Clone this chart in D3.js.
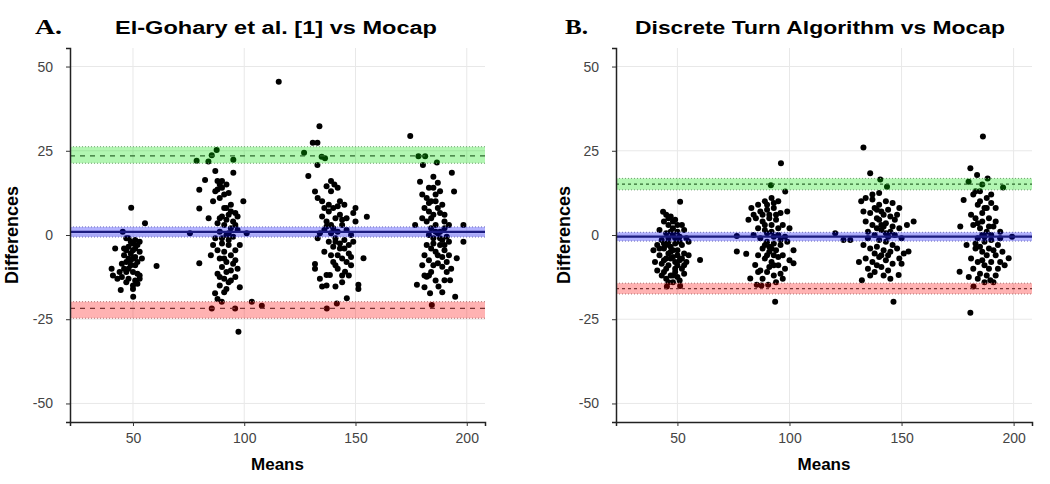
<html>
  <head>
    <meta charset="utf-8">
    <script src="https://d3js.org/d3.v7.min.js"></script>
    <style>
      body { margin: 0; background: #fff; }
      text { font-family: "Liberation Sans", Arial, sans-serif; }
    </style>
  </head>
  <body>
<div id="my_dataviz"></div>
<script>
// Bland-Altman points: [mean, difference]
var pointsA = [
  // around 50
  [49.2,8.1],[55.4,3.5],[45.4,1.0],[60.6,-9.2],[42,-4],[40.4,-10],[44.5,-16.3],[50.1,-18.3],[50,-16],[47,-1],
  [49,-2],[51,-1.5],[52,-3],[48,-3.5],[50,-4.5],[53,-5],[46,-6],[48,-7],[47,-8],[49,-7.5],
  [52,-8],[54,-7],[51,-9],[46,-10],[44,-11],[50,-11],[52,-11.5],[53,-12],[45,-12.5],[43,-13],
  [48,-13],[51,-13.5],[47,-14],[50,-15],[53,-13],[41,-12],[49,-5.5],[51,-6.5],[53,-2],[47,-4.5],
  [48,-1],[50,-2.5],[46,-4],[51,-4],[49,-9],[47,-11],[52,-14.5],[45,-8.5],[50,-7],[48,-10],
  // around 90
  [78.6,22],[83.9,21.8],[85.4,23.7],[87.6,25.2],[95.1,22.3],[95.1,18.5],[82.4,16.3],[79.8,13.4],[99.6,10],[79.8,7.9],
  [79.8,-8.4],[103.4,-19.8],[107.9,-21],[85.4,-21.8],[95.9,-21.8],[97.4,-28.7],[86.9,-17.3],[89.9,-19.8],[75.6,0.5],[101.1,0.5],
  [87,19],[88,16],[89,15],[90,14],[87,13],[91,12],[89,11],[93,12.5],[86,10],[92,8],
  [94,7],[96,6.5],[90,5.5],[92,4.5],[95,4],[88,3.5],[91,3],[94,2],[97,1.5],[89,1],
  [92,0],[95,-0.5],[87,-1],[90,-2.5],[93,-3],[88,-4.5],[91,-5],[94,-6],[89,-7],[92,-8],
  [96,-7.5],[90,-9.5],[94,-10.5],[97,-10],[88,-11.5],[91,-13],[93,-14],[96,-12.5],[89,-15],[92,-16],
  [98,-15.5],[85,-6],[84,5],[86,-3],[98,-3],[115.5,45.5],
  [90,16],[92,15],[88,13.5],[94,9],[91,8],[93,6],[89,5],[96,3],[90,-1],[93,-1.5],
  [96,-4.5],[91,-7],[95,-8.5],[92,-11],[89,-12.5],[94,-13.5],[91,-17],[88,-19],[97,5.5],[93,0.5],
  // around 140
  [133.8,32.3],[130.8,27.4],[132.9,27.4],[126.9,24.4],[134.8,23.2],[136.3,22.8],[132.9,20.8],[128.8,17.5],[155.1,5.4],[153.6,-6.9],
  [131.8,-8.6],[131.8,-10],[146.1,-18.8],[141.6,-20.3],[137.1,-21.8],[151.3,-14.8],[151.3,-16],[145.3,-10.9],[141,-9],[137,-11.9],
  [138.5,-11.9],[137,-15],[141,-15.3],[135,-15.3],[143,-2.5],[145,-4],[147,-5.5],[146,5],[149,6.5],[150,8],
  [131.8,12.9],[133,11],[135,10],[139,16],[140.5,15],[142,14],[136,8],[138,7],[135,5.5],[137,4],
  [139,3],[141,5],[143,6],[140,2],[142,1],[144,3],[146,1.5],[148,0],[136,1.5],[134,0.5],
  [133,-1],[138,-2],[140,-3.5],[142,-6],[144,-7],[146,-8],[148,-9],[139,-6],[141,-1],[144,-12],
  [147,-12],[139,13],[137,14.5],[143,10],[145,9],
  [138,9],[140,8],[142,8.5],[144,4.5],[137,2.5],[139,0.5],[141,-2],[143,-4],[145,-1.5],[147,-3],
  [140,-8],[142,-10],[144,-14],[148,-6.5],[136,-5],[134,-13],[150,4],[149,-2],
  // around 185
  [174.6,29.4],[178.3,23.4],[181.3,23.4],[180.3,20.8],[186.6,21.5],[193.3,18.5],[194.3,12.9],[179,15.8],[185,17.3],[198.5,3],
  [198.5,-2],[176.8,3],[195.5,-6.9],[177.6,-14.8],[182,-12.4],[183.5,-17.3],[184.3,-20.8],[194.8,-18.3],[192.5,-13.4],[190,-13.4],
  [187.3,-15.3],[181,-12],[183,-12],[187,-8.4],[189,-9.4],[180,12],[182,11],[184,10],[186,12],[188,13],
  [181,8],[183,7],[185,6],[187,8],[189,9],[180,5],[182,4],[184,2],[186,3],[188,1],
  [190,2],[183,0],[185,-1],[187,0.5],[189,-1.5],[191,-0.5],[182,-3],[184,-4],[186,-5],[188,-3],
  [190,-4.5],[192,-6],[181,-6],[183,-7.5],[185,-9],[191,-8],[193,-10],[180,-9],[185,14],[187,15.5],
  [190,6],[192,3],
  [183,14],[186,10],[188,6.5],[190,4],[184,5],[186,1],[188,-1],[190,-3],[187,-6],[189,-6.5],
  [184,-11],[186,-13.5],[181,-15.5],[191,-11],[189,-17],[183,9.5],[185,-2.5],[192,-2]
];

var pointsB = [
  // around 48
  [51.2,9.9],[60.1,-7.4],[45.3,-15.3],[51.2,-15.1],[43.6,6.9],[39.3,-4.5],[45,6],[47,5.5],[44,4],[46,3],
  [49,4.5],[48,2],[52,3],[42,1.5],[45,0.5],[48,0],[51,-0.5],[54,-1],[43,-1.5],[46,-2],
  [49,-2.5],[52,-3],[55,-2],[41,-3],[44,-4],[47,-5],[50,-4.5],[53,-5.5],[42,-6],[45,-7],
  [48,-6.5],[51,-7.5],[54,-8],[43,-8.5],[46,-9],[49,-10],[52,-10],[41,-10.5],[44,-11],[47,-12],
  [50,-12.5],[53,-11.5],[45,-13],[48,-14],[51,-13.5],[43,-12],[40,-8],[46,-1],[50,1],[53,1.5],
  [55,-6],[47,-3.5],[42,-4],[49,-8],
  [46,5],[48,4],[50,3],[47,1],[49,-1],[51,-2],[45,-3],[48,-4.5],[50,-6],[46,-5.5],
  [44,-7.5],[47,-7],[49,-11],[52,-7],[45,-10],[48,-12],[50,-9],[46,-14],[53,-9],[44,-2.5],
  // around 92
  [96.2,21.3],[91.7,14.8],[98.1,12.9],[93.6,-19.8],[81.7,4.5],[76.5,-4.9],[80.7,-5.6],[76.5,-0.3],[82.5,-12.9],[85.4,-14.8],
  [87.5,-15],[90.5,-14.8],[84.7,-8.9],[101.8,-4.5],[101.8,-8.4],[83,8],[86,9],[89,10],[92,11],[95,10],
  [87,7],[90,7.5],[93,8],[96,6.5],[99,7],[85,5],[88,4],[91,5],[94,4.5],[97,3],
  [100,2],[86,2],[89,1.5],[92,1],[95,0],[98,-0.5],[84,0],[87,-1],[90,-2],[93,-2.5],
  [96,-3],[99,-2],[88,-4],[91,-5],[94,-4.5],[97,-6],[86,-6],[89,-7],[92,-8],[95,-9],
  [98,-10],[87,-10.5],[90,-11],[93,-12],[96,-11.5],[91,-3.5],[93,-6],[89,3],[100,-7.5],[84,6],
  [90,9],[93,9.5],[91,6],[94,6],[88,6],[92,3],[95,2],[90,0.5],[93,-0.5],[96,-1.5],
  [89,-3],[92,-4],[95,-6.5],[90,-6],[93,-9],[91,-9.5],[88,-13],[94,-14],[97,-13],[86,-11],
  // around 140
  [133,26],[136,18.3],[140.5,16.5],[143.5,14.3],[146.4,-19.8],[120.4,0.5],[124.1,-1.5],[127.1,-1.5],[155.4,4],[152.4,3],
  [132.3,-13.4],[148.7,-11.9],[153.1,-4.9],[132,10],[134,11],[137,10.5],[140,9],[143,10],[146,9.5],[149,8],
  [133,7],[136,6.5],[139,7.5],[142,6],[145,5.5],[148,6],[134,4],[137,3],[140,4.5],[143,3.5],
  [146,2.5],[149,2],[135,1],[138,0],[141,1.5],[144,-0.5],[147,0],[150,-1],[133,-3],[136,-4],
  [139,-3.5],[142,-4.5],[145,-5],[148,-4],[151,-5.5],[134,-7],[137,-8],[140,-6.5],[143,-7.5],[146,-8.5],
  [149,-7],[135,-10],[138,-11],[141,-9.5],[144,-10.5],[131,-8],[136,-12],[139,5],[141,3],[143,0.5],
  [138,8],[141,7],[144,7.5],[139,2],[142,2.5],[145,1],[140,-1.5],[143,-2],[146,-3],[138,-5.5],
  [141,-6],[144,-6],[139,-9],[142,-12],[145,-13],[137,12],[140,12.5],[147,4.5],[135,-1],[150,-8.5],
  // around 186
  [186.3,29.2],[180.7,19.8],[183.7,17.8],[179.9,15.8],[188.4,16.8],[195.3,14.1],[180.7,-23.1],[182.1,-15.3],[175.9,-10.9],[199.3,-0.5],
  [197.8,-6.9],[176.2,2.5],[177.7,10.4],[189.6,-13.4],[182,12],[185,13],[188,11],[184,9],[187,8],[190,9.5],
  [181,6],[183,5],[186,6.5],[189,5],[192,4],[182,3],[185,2],[188,1],[191,2.5],[194,1],
  [184,-1],[187,-2],[190,-1.5],[193,-3],[183,-4],[186,-5],[189,-4],[192,-6],[195,-5],[181,-7],
  [184,-8],[187,-9],[190,-8],[193,-10],[182,-10],[185,-11.5],[188,-12],[192,-12],[196,-9],[179,-3],
  [186,0],[183,-2.5],[190,12],[186,15],[194,-1],[180,-12.5],
  [185,10],[188,8],[186,4],[189,2.5],[184,3.5],[187,-0.5],[190,0],[185,-3.5],[188,-6],[191,-4.5],
  [186,-7.5],[189,-10],[184,-13],[191,-14],[187,-14],[183,13],[192,8],[194,-8]
];

// limits of agreement: [ci low, estimate, ci high]
var biasA  = [-0.6, 0.9, 2.4];
var upperA = [21.3, 23.5, 26.2];
var lowerA = [-24.7, -21.8, -19.8];
var biasB  = [-1.8, -0.5, 0.8];
var upperB = [13.4, 15.1, 16.8];
var lowerB = [-17.5, -15.9, -14.3];

var xTicks = [50, 100, 150, 200];
var yTicks = [-50, -25, 0, 25, 50];

var svg = d3.select("#my_dataviz")
  .append("svg")
    .attr("width", 1050)
    .attr("height", 484);

function drawPanel(opt) {
  var width = opt.width, height = 374;
  var g = svg.append("g")
    .attr("transform", "translate(" + opt.left + ",48)");

  var x = d3.scaleLinear().domain(opt.xDomain).range([0, width]);
  var y = d3.scaleLinear().domain([-55.5, 55.5]).range([height, 0]);

  // grid
  g.selectAll(".gx").data(xTicks).enter().append("line")
    .attr("x1", function(d) { return x(d); }).attr("x2", function(d) { return x(d); })
    .attr("y1", 0).attr("y2", height)
    .attr("stroke", "#e8e8e8").attr("stroke-width", 1);
  g.selectAll(".gy").data(yTicks).enter().append("line")
    .attr("x1", 0).attr("x2", width)
    .attr("y1", function(d) { return y(d); }).attr("y2", function(d) { return y(d); })
    .attr("stroke", "#e8e8e8").attr("stroke-width", 1);

  // dots
  g.append("g").selectAll("circle")
    .data(opt.points)
    .enter()
    .append("circle")
      .attr("cx", function(d) { return x(d[0]); })
      .attr("cy", function(d) { return y(d[1]); })
      .attr("r", 3)
      .attr("fill", "black");

  // bands drawn over the dots, like the original
  function band(vals, fill, edge, lineColor, dash, lineWidth) {
    g.append("rect")
      .attr("x", 0).attr("width", width)
      .attr("y", y(vals[2])).attr("height", y(vals[0]) - y(vals[2]))
      .attr("fill", fill).attr("fill-opacity", 0.3);
    [vals[0], vals[2]].forEach(function(v) {
      g.append("line")
        .attr("x1", 0).attr("x2", width)
        .attr("y1", y(v)).attr("y2", y(v))
        .attr("stroke", edge).attr("stroke-width", 1)
        .attr("stroke-dasharray", "1,2");
    });
    g.append("line")
      .attr("x1", 0).attr("x2", width)
      .attr("y1", y(vals[1])).attr("y2", y(vals[1]))
      .attr("stroke", lineColor).attr("stroke-width", lineWidth)
      .attr("stroke-dasharray", dash);
  }
  band(opt.upper, "#00e000", "#6f9f6f", "#2f6a2f", opt.dash, 1.2);
  band(opt.bias, "#0000ff", "#7070b8", "#1c1c80", null, 2.2);
  band(opt.lower, "#ff0000", "#b07070", "#7a3333", opt.dash, 1.2);

  // axes
  var yAxis = g.append("g")
    .call(d3.axisLeft(y).tickValues(yTicks).tickSize(4).tickPadding(13)
      .tickFormat(function(d) { return String(d); }));
  var xAxis = g.append("g")
    .attr("transform", "translate(0," + height + ")")
    .call(d3.axisBottom(x).tickValues(xTicks).tickSize(4).tickPadding(7));
  [xAxis, yAxis].forEach(function(a) {
    a.select(".domain").attr("stroke", "#222").attr("stroke-width", 1.5);
    a.selectAll(".tick line").attr("stroke", "#333");
    a.selectAll(".tick text")
      .attr("fill", "#444")
      .style("font-size", "14px")
      .style("font-family", "'Liberation Sans', Arial, sans-serif");
  });

  // axis titles
  g.append("text")
    .attr("text-anchor", "middle")
    .attr("x", width / 2)
    .attr("y", height + 48)
    .style("font-size", "17px").style("font-weight", "bold")
    .text("Means");
  g.append("text")
    .attr("text-anchor", "middle")
    .attr("transform", "rotate(-90)")
    .attr("x", -height / 2)
    .attr("y", opt.ylabX)
    .style("font-size", "18px").style("font-weight", "bold")
    .text("Differences");

  // panel letter and title
  svg.append("text")
    .attr("x", opt.letterX).attr("y", 34)
    .style("font-family", "'Liberation Serif', 'Times New Roman', serif")
    .style("font-size", "20px").style("font-weight", "bold")
    .attr("textLength", opt.letterLen).attr("lengthAdjust", "spacingAndGlyphs")
    .text(opt.letter);
  svg.append("text")
    .attr("x", opt.titleX).attr("y", 34)
    .style("font-size", "18px").style("font-weight", "bold")
    .attr("textLength", opt.titleLen).attr("lengthAdjust", "spacingAndGlyphs")
    .text(opt.title);
}

drawPanel({
  left: 70, width: 415, xDomain: [21.7, 208.2],
  points: pointsA, bias: biasA, upper: upperA, lower: lowerA,
  dash: "5,5", ylabX: -52,
  letter: "A.", letterX: 35, letterLen: 27,
  title: "El-Gohary et al. [1] vs Mocap", titleX: 115, titleLen: 322
});
drawPanel({
  left: 616, width: 416, xDomain: [22.6, 208.2],
  points: pointsB, bias: biasB, upper: upperB, lower: lowerB,
  dash: "3,3", ylabX: -46,
  letter: "B.", letterX: 565, letterLen: 23,
  title: "Discrete Turn Algorithm vs Mocap", titleX: 635, titleLen: 370
});
</script>
  </body>
</html>
